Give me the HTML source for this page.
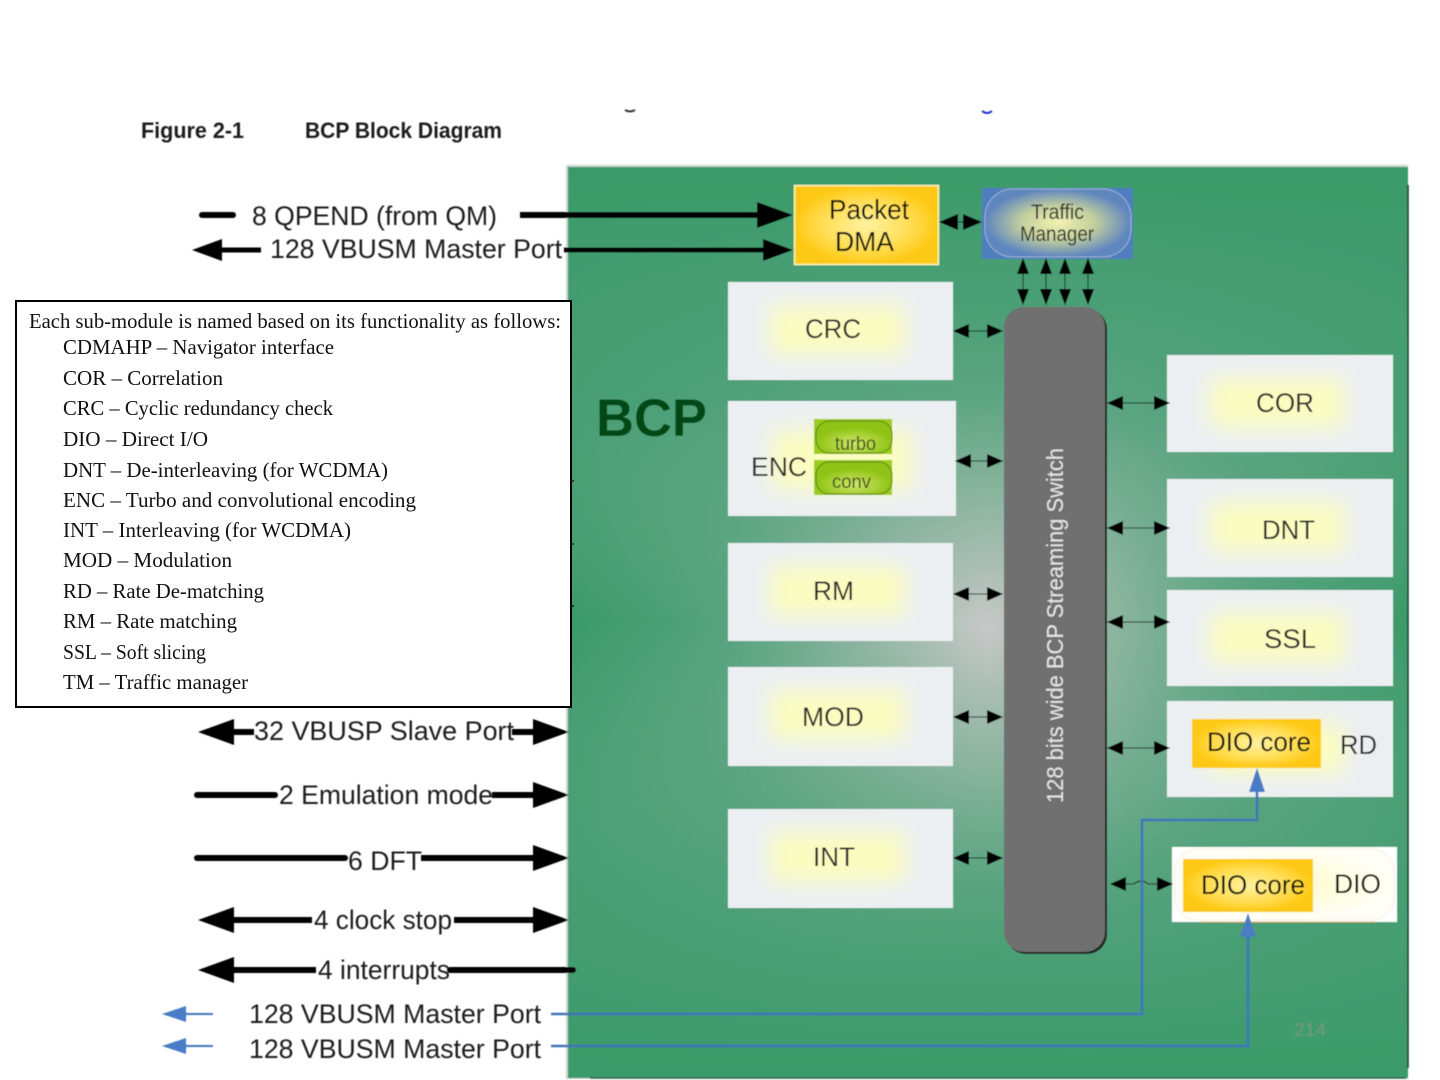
<!DOCTYPE html>
<html><head><meta charset="utf-8"><title>BCP Block Diagram</title>
<style>html,body{margin:0;padding:0;background:#fff}svg{display:block}text{font-family:"Liberation Sans",sans-serif}.s{font-family:"Liberation Serif",serif;font-size:21px;fill:#111}.l{font-size:27px;fill:#1c1c1c}.b{font-size:27px;fill:#2c2c2c}</style></head>
<body>
<svg width="1440" height="1080" viewBox="0 0 1440 1080" xmlns="http://www.w3.org/2000/svg">
<defs>
<filter id="soft" filterUnits="userSpaceOnUse" x="0" y="0" width="1440" height="1080"><feGaussianBlur stdDeviation="0.45"/></filter>
<filter id="glow" x="-30%" y="-50%" width="160%" height="200%"><feGaussianBlur stdDeviation="11"/></filter>
<linearGradient id="edge" x1="0" x2="1" y1="0" y2="0"><stop offset="0" stop-color="#3a9a69"/><stop offset=".2" stop-color="#52a27c" stop-opacity=".85"/><stop offset=".5" stop-color="#7fb097" stop-opacity="0"/><stop offset=".8" stop-color="#52a27c" stop-opacity=".85"/><stop offset="1" stop-color="#3a9a69"/></linearGradient>
<linearGradient id="edgeV" x1="0" x2="0" y1="0" y2="1"><stop offset="0" stop-color="#3a9a69"/><stop offset=".25" stop-color="#4da078" stop-opacity=".7"/><stop offset=".5" stop-color="#7fb097" stop-opacity="0"/><stop offset=".78" stop-color="#4da078" stop-opacity=".7"/><stop offset="1" stop-color="#3a9a69"/></linearGradient>
<radialGradient id="core" gradientUnits="userSpaceOnUse" cx="985" cy="630" r="320"><stop offset="0" stop-color="#c8c8c8"/><stop offset=".45" stop-color="#a3bcae"/><stop offset="1" stop-color="#62a884"/></radialGradient>
<radialGradient id="dio"><stop offset="0" stop-color="#fdfcc8"/><stop offset="1" stop-color="#fffef6"/></radialGradient>
<radialGradient id="gold"><stop offset="0" stop-color="#fff1a0"/><stop offset=".6" stop-color="#ffde55"/><stop offset="1" stop-color="#fec914"/></radialGradient>
<radialGradient id="tm"><stop offset="0" stop-color="#f2f2b0"/><stop offset=".5" stop-color="#c3cf9e"/><stop offset="1" stop-color="#5f86bf"/></radialGradient>
<radialGradient id="lime" cy=".7"><stop offset="0" stop-color="#d0e66a"/><stop offset="1" stop-color="#8fc314"/></radialGradient>
<marker id="sm" markerUnits="userSpaceOnUse" markerWidth="17" markerHeight="14" refX="16" refY="7" orient="auto-start-reverse"><polygon points="0,0 16,7 0,14" fill="#000"/></marker>
<marker id="smv" markerUnits="userSpaceOnUse" markerWidth="17" markerHeight="12" refX="16" refY="6" orient="auto-start-reverse"><polygon points="0,0 16,6 0,12" fill="#000"/></marker>
<marker id="tmh" markerUnits="userSpaceOnUse" markerWidth="20" markerHeight="16" refX="19" refY="8" orient="auto-start-reverse"><polygon points="0,0 19,8 0,16" fill="#000"/></marker>
<marker id="big" markerUnits="userSpaceOnUse" markerWidth="37" markerHeight="26" refX="2" refY="13" orient="auto-start-reverse"><polygon points="0,0 36,13 0,26" fill="#000"/></marker>
<marker id="med" markerUnits="userSpaceOnUse" markerWidth="31" markerHeight="22" refX="2" refY="11" orient="auto-start-reverse"><polygon points="0,0 30,11 0,22" fill="#000"/></marker>
<marker id="blue" markerUnits="userSpaceOnUse" markerWidth="25" markerHeight="16" refX="2" refY="8" orient="auto-start-reverse"><polygon points="0,0 24,8 0,16" fill="#4a7cc6"/></marker>
</defs>

<rect width="1440" height="1080" fill="#fff"/>
<g filter="url(#soft)">
<path d="M625 110q5 3 10 0" stroke="#333" stroke-width="2" fill="none"/>
<path d="M982 111q5 4 10 0" stroke="#2233cc" stroke-width="2" fill="none"/>
<text x="141" y="138" font-size="22" font-weight="bold" fill="#1a1a1a" textLength="103" lengthAdjust="spacingAndGlyphs">Figure 2-1</text>
<text x="305" y="138" font-size="22" font-weight="bold" fill="#1a1a1a" textLength="197" lengthAdjust="spacingAndGlyphs">BCP Block Diagram</text>

<!-- panel -->
<rect x="566" y="165" width="842" height="914" fill="#c9d6cd"/>
<rect x="568" y="167" width="840" height="911" fill="url(#core)"/>
<rect x="568" y="167" width="840" height="911" fill="url(#edge)"/>
<rect x="568" y="167" width="840" height="911" fill="url(#edgeV)"/>
<path d="M1408 185V1068" stroke="#173a28" stroke-width="1.5"/>
<path d="M590 1078H1406" stroke="#2b6a49" stroke-width="1.5"/>
<text x="596" y="436" font-size="53" font-weight="bold" fill="#004a12" textLength="111" lengthAdjust="spacingAndGlyphs">BCP</text>

<!-- switch -->
<rect x="1006" y="309" width="101" height="645" rx="20" fill="#222"/>
<rect x="1004" y="307" width="101" height="645" rx="20" fill="#6f6f6f"/>
<text transform="translate(1063 803) rotate(-90)" font-size="23" fill="#e4e6e4" textLength="355" lengthAdjust="spacingAndGlyphs">128 bits wide BCP Streaming Switch</text>

<!-- top blocks -->
<rect x="794.5" y="185.5" width="144" height="79" fill="url(#gold)" stroke="#fff6c0" stroke-width="1.5"/>
<text x="829" y="219" font-size="28" fill="#111" textLength="80" lengthAdjust="spacingAndGlyphs">Packet</text>
<text x="835" y="251" font-size="28" fill="#111" textLength="59" lengthAdjust="spacingAndGlyphs">DMA</text>
<rect x="982" y="188" width="151" height="71" fill="#4f7ebf"/>
<rect x="985" y="189" width="146" height="68" rx="28" fill="url(#tm)" stroke="#9db3d6" stroke-width="1"/>
<text x="1031" y="219" font-size="21" fill="#2a2a2a" textLength="53" lengthAdjust="spacingAndGlyphs">Traffic</text>
<text x="1020" y="241" font-size="21" fill="#2a2a2a" textLength="74" lengthAdjust="spacingAndGlyphs">Manager</text>

<!-- sub-module boxes -->
<g fill="#ebeff2">
<rect x="728" y="282" width="225" height="98"/>
<rect x="728" y="401" width="228" height="115"/>
<rect x="728" y="543" width="225" height="98"/>
<rect x="728" y="667" width="225" height="99"/>
<rect x="728" y="809" width="225" height="99"/>
<rect x="1167" y="355" width="226" height="97"/>
<rect x="1167" y="479" width="226" height="98"/>
<rect x="1167" y="590" width="226" height="96"/>
<rect x="1167" y="701" width="226" height="96"/>
</g>
<g fill="#fbfdc0" filter="url(#glow)">
<rect x="770" y="305" width="135" height="50"/>
<rect x="772" y="430" width="140" height="60"/>
<rect x="770" y="566" width="135" height="50"/>
<rect x="770" y="690" width="135" height="50"/>
<rect x="770" y="832" width="135" height="50"/>
<rect x="1210" y="378" width="135" height="50"/>
<rect x="1210" y="502" width="135" height="50"/>
<rect x="1210" y="613" width="135" height="50"/>
<rect x="1210" y="724" width="135" height="50"/>
</g>
<rect x="1172" y="847" width="225" height="75" fill="#fff"/>
<rect x="1175" y="849" width="219" height="71" rx="22" fill="url(#dio)" stroke="#fbeee2"/>
<path d="M1200 922H1375" stroke="#e6b060" stroke-width="1"/>
<text class="b" x="805" y="338" textLength="56" lengthAdjust="spacingAndGlyphs">CRC</text>
<text class="b" x="751" y="476" textLength="56" lengthAdjust="spacingAndGlyphs">ENC</text>
<text class="b" x="813" y="600" textLength="41" lengthAdjust="spacingAndGlyphs">RM</text>
<text class="b" x="802" y="726" textLength="62" lengthAdjust="spacingAndGlyphs">MOD</text>
<text class="b" x="813" y="866" textLength="42" lengthAdjust="spacingAndGlyphs">INT</text>
<text class="b" x="1256" y="412" textLength="58" lengthAdjust="spacingAndGlyphs">COR</text>
<text class="b" x="1262" y="539" textLength="53" lengthAdjust="spacingAndGlyphs">DNT</text>
<text class="b" x="1264" y="648" textLength="52" lengthAdjust="spacingAndGlyphs">SSL</text>
<text class="b" x="1340" y="754" textLength="37" lengthAdjust="spacingAndGlyphs">RD</text>
<text x="1334" y="893" font-size="27" fill="#111" textLength="47" lengthAdjust="spacingAndGlyphs">DIO</text>

<!-- ENC sub blocks -->
<rect x="814" y="419" width="78" height="35" fill="#9ccc1a"/>
<rect x="816" y="421" width="76" height="32" rx="13" fill="url(#lime)" stroke="#55801a"/>
<text x="835" y="450" font-size="19" fill="#3e4e22" textLength="41" lengthAdjust="spacingAndGlyphs">turbo</text>
<rect x="814" y="460" width="78" height="35" fill="#9ccc1a"/>
<rect x="816" y="462" width="76" height="32" rx="13" fill="url(#lime)" stroke="#55801a"/>
<text x="832" y="488" font-size="19" fill="#3e4e22" textLength="39" lengthAdjust="spacingAndGlyphs">conv</text>

<!-- DIO cores -->
<rect x="1192" y="719" width="129" height="49" fill="url(#gold)"/>
<text x="1207" y="751" font-size="27" fill="#111" textLength="104" lengthAdjust="spacingAndGlyphs">DIO core</text>
<rect x="1183" y="859" width="130" height="53" fill="url(#gold)"/>
<text x="1201" y="894" font-size="27" fill="#111" textLength="104" lengthAdjust="spacingAndGlyphs">DIO core</text>

<!-- small arrows -->
<g stroke="#000" stroke-width="1" fill="none">
<path d="M953 331H1003" marker-start="url(#sm)" marker-end="url(#sm)"/>
<path d="M955 461H1003" marker-start="url(#sm)" marker-end="url(#sm)"/>
<path d="M953 594H1003" marker-start="url(#sm)" marker-end="url(#sm)"/>
<path d="M953 717H1003" marker-start="url(#sm)" marker-end="url(#sm)"/>
<path d="M953 858H1003" marker-start="url(#sm)" marker-end="url(#sm)"/>
<path d="M1107 403H1170" marker-start="url(#sm)" marker-end="url(#sm)"/>
<path d="M1107 528H1170" marker-start="url(#sm)" marker-end="url(#sm)"/>
<path d="M1107 622H1170" marker-start="url(#sm)" marker-end="url(#sm)"/>
<path d="M1107 748H1170" marker-start="url(#sm)" marker-end="url(#sm)"/>
<path d="M1110 884H1134q7-6 14 0H1173" marker-start="url(#sm)" marker-end="url(#sm)"/>
<path d="M939 222H982" marker-start="url(#tmh)" marker-end="url(#tmh)"/>
<path d="M1023 258V305" marker-start="url(#smv)" marker-end="url(#smv)"/>
<path d="M1046 258V305" marker-start="url(#smv)" marker-end="url(#smv)"/>
<path d="M1065 258V305" marker-start="url(#smv)" marker-end="url(#smv)"/>
<path d="M1088 258V305" marker-start="url(#smv)" marker-end="url(#smv)"/>
</g>

<!-- blue lines -->
<g fill="none" stroke="#3f74ba" stroke-width="2.5">
<path d="M551 1014H1142V820H1257V790" marker-end="url(#blue)"/>
<path d="M551 1046H1248V935" marker-end="url(#blue)"/>
<path d="M213 1014H184" stroke-width="2" marker-end="url(#blue)"/>
<path d="M213 1046H184" stroke-width="2" marker-end="url(#blue)"/>
</g>

<!-- thick signals -->
<g fill="none" stroke="#000" stroke-width="6" stroke-linecap="round">
<path d="M202 215H233"/>
<path d="M520 215H759" stroke-linecap="butt" marker-end="url(#big)"/>
<path d="M261 250H220" stroke-width="5" stroke-linecap="butt" marker-end="url(#med)"/>
<path d="M564 250H765" stroke-width="5" stroke-linecap="butt" marker-end="url(#med)"/>
<path d="M254 732H232" stroke-linecap="butt" marker-end="url(#big)"/>
<path d="M512 732H535" stroke-linecap="butt" marker-end="url(#big)"/>
<path d="M197 795H275"/>
<path d="M492 795H535" stroke-linecap="butt" marker-end="url(#big)"/>
<path d="M197 858H345"/>
<path d="M421 858H535" stroke-linecap="butt" marker-end="url(#big)"/>
<path d="M312 920H232" stroke-linecap="butt" marker-end="url(#big)"/>
<path d="M454 920H535" stroke-linecap="butt" marker-end="url(#big)"/>
<path d="M316 970H232" stroke-linecap="butt" marker-end="url(#big)"/>
<path d="M450 970H573"/>
</g>

<!-- signal labels -->
<text class="l" x="252" y="225" textLength="245" lengthAdjust="spacingAndGlyphs">8 QPEND (from QM)</text>
<text class="l" x="270" y="258" textLength="292" lengthAdjust="spacingAndGlyphs">128 VBUSM Master Port</text>
<text class="l" x="254" y="740" textLength="260" lengthAdjust="spacingAndGlyphs">32 VBUSP Slave Port</text>
<text class="l" x="279" y="804" textLength="214" lengthAdjust="spacingAndGlyphs">2 Emulation mode</text>
<text class="l" x="348" y="870" textLength="74" lengthAdjust="spacingAndGlyphs">6 DFT</text>
<text class="l" x="314" y="929" textLength="138" lengthAdjust="spacingAndGlyphs">4 clock stop</text>
<text class="l" x="318" y="979" textLength="132" lengthAdjust="spacingAndGlyphs">4 interrupts</text>
<text class="l" x="249" y="1023" textLength="292" lengthAdjust="spacingAndGlyphs">128 VBUSM Master Port</text>
<text class="l" x="249" y="1058" textLength="292" lengthAdjust="spacingAndGlyphs">128 VBUSM Master Port</text>
<text x="1294" y="1036" font-size="18" fill="#6f9a80" textLength="32" lengthAdjust="spacingAndGlyphs">214</text>
</g>

<!-- legend box -->
<rect x="16" y="301" width="555" height="406" fill="#fff" stroke="#000" stroke-width="2"/>
<path d="M571 481h3M571 544h3M571 606h3" stroke="#222" stroke-width="1.5"/>
<text class="s" x="29" y="328" textLength="532" lengthAdjust="spacingAndGlyphs">Each sub-module is named based on its functionality as follows:</text>
<text class="s" x="63" y="354" textLength="271" lengthAdjust="spacingAndGlyphs">CDMAHP – Navigator interface</text>
<text class="s" x="63" y="385" textLength="160" lengthAdjust="spacingAndGlyphs">COR – Correlation</text>
<text class="s" x="63" y="415" textLength="270" lengthAdjust="spacingAndGlyphs">CRC – Cyclic redundancy check</text>
<text class="s" x="63" y="446" textLength="145" lengthAdjust="spacingAndGlyphs">DIO – Direct I/O</text>
<text class="s" x="63" y="477" textLength="325" lengthAdjust="spacingAndGlyphs">DNT – De-interleaving (for WCDMA)</text>
<text class="s" x="63" y="507" textLength="353" lengthAdjust="spacingAndGlyphs">ENC – Turbo and convolutional encoding</text>
<text class="s" x="63" y="537" textLength="288" lengthAdjust="spacingAndGlyphs">INT – Interleaving (for WCDMA)</text>
<text class="s" x="63" y="567" textLength="169" lengthAdjust="spacingAndGlyphs">MOD – Modulation</text>
<text class="s" x="63" y="598" textLength="201" lengthAdjust="spacingAndGlyphs">RD – Rate De-matching</text>
<text class="s" x="63" y="628" textLength="174" lengthAdjust="spacingAndGlyphs">RM – Rate matching</text>
<text class="s" x="63" y="659" textLength="143" lengthAdjust="spacingAndGlyphs">SSL – Soft slicing</text>
<text class="s" x="63" y="689" textLength="185" lengthAdjust="spacingAndGlyphs">TM – Traffic manager</text>
</svg>
</body></html>
